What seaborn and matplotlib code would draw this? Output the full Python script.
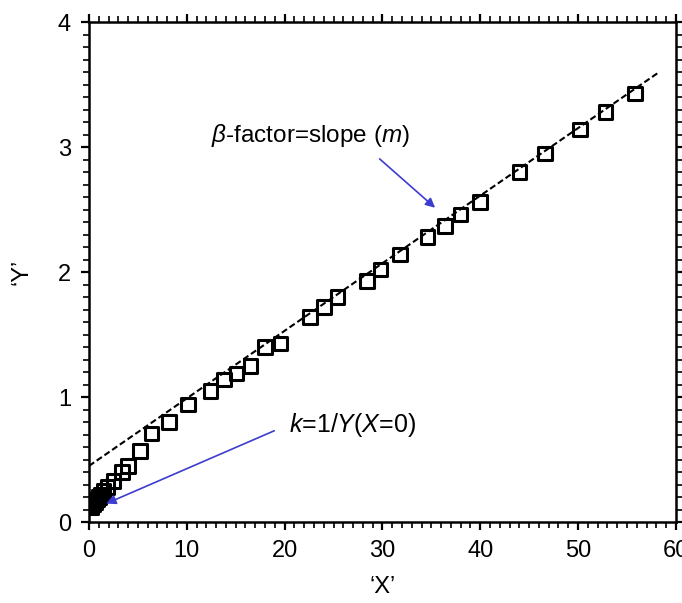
import matplotlib
matplotlib.use("Agg")
import matplotlib.pyplot as plt
from matplotlib.ticker import MultipleLocator
import seaborn as sns
import pandas as pd

# data
x_vals = [0.2, 0.4, 0.6, 0.8, 1.0, 1.2, 1.5, 1.9, 2.5, 3.4, 4.0, 5.2, 6.4, 8.2,
          10.1, 12.4, 13.8, 15.1, 16.5, 18.0, 19.6, 22.6, 24.0, 25.4, 28.4,
          29.8, 31.8, 34.6, 36.4, 38.0, 40.0, 44.0, 46.6, 50.2, 52.8, 55.8]
y_vals = [0.12, 0.14, 0.16, 0.18, 0.20, 0.22, 0.25, 0.28, 0.33, 0.40, 0.45,
          0.57, 0.71, 0.80, 0.94, 1.05, 1.14, 1.19, 1.25, 1.40, 1.43, 1.64,
          1.72, 1.80, 1.93, 2.02, 2.14, 2.28, 2.37, 2.46, 2.56, 2.80, 2.95,
          3.14, 3.28, 3.43]
fit_x = [0.0, 58.3]
fit_y = [0.45, 3.60]
x_ticks = [0, 10, 20, 30, 40, 50, 60]
y_ticks = [0, 1, 2, 3, 4]

sns.set_theme(style="ticks")
plt.rcParams['font.family'] = ['Liberation Sans', 'DejaVu Sans']
plt.rcParams['mathtext.fontset'] = 'custom'
plt.rcParams['mathtext.it'] = 'Liberation Sans:italic'
plt.rcParams['mathtext.rm'] = 'Liberation Sans'
plt.rcParams['text.color'] = 'black'
plt.rcParams['axes.labelcolor'] = 'black'
plt.rcParams['xtick.color'] = 'black'
plt.rcParams['ytick.color'] = 'black'

fig = plt.figure(figsize=(6.82, 6.03), dpi=100)
ax = fig.add_axes([0.1305, 0.134, 0.8605, 0.8295])

df = pd.DataFrame({"x": x_vals, "y": y_vals})
fit = pd.DataFrame({"x": fit_x, "y": fit_y})

sns.lineplot(data=fit, x="x", y="y", ax=ax, color="black", lw=1.5,
             linestyle=(0, (3, 1.5)), zorder=2)
sns.scatterplot(data=df, x="x", y="y", ax=ax, marker="s", s=95,
                facecolor="none", edgecolor="black", linewidth=2.2, zorder=3)

ax.set_xlim(0, 60)
ax.set_ylim(0, 4)
ax.set_xticks(x_ticks)
ax.set_yticks(y_ticks)
ax.xaxis.set_minor_locator(MultipleLocator(1))
ax.yaxis.set_minor_locator(MultipleLocator(0.1))
ax.tick_params(which="both", direction="out", top=True, right=True,
               labeltop=False, labelright=False, color="black")
ax.tick_params(which="major", length=6, width=1.6, labelsize=17, pad=7)
ax.tick_params(which="minor", length=4, width=1.2)
for sp in ax.spines.values():
    sp.set_linewidth(1.8)
    sp.set_color("black")

ax.set_xlabel("\u2018X\u2019", fontsize=17, labelpad=10)
ax.set_ylabel("\u2018Y\u2019", fontsize=17, labelpad=18)

blue = "#3c3ccf"
ax.annotate("", xy=(35.6, 2.50), xytext=(29.5, 2.92),
            arrowprops=dict(arrowstyle="-|>", color=blue, lw=1.2,
                            mutation_scale=14))
ax.text(12.5, 3.09, r"$\it{\beta}$-factor=slope ($\it{m}$)", fontsize=17.5,
        va="center", ha="left")
ax.annotate("", xy=(1.5, 0.14), xytext=(19.2, 0.74),
            arrowprops=dict(arrowstyle="-|>", color=blue, lw=1.2,
                            mutation_scale=14))
ax.text(20.4, 0.78, r"$\it{k}$=1/$\it{Y}$($\it{X}$=0)", fontsize=18,
        va="center", ha="left")

fig.savefig("out.png", dpi=100)
